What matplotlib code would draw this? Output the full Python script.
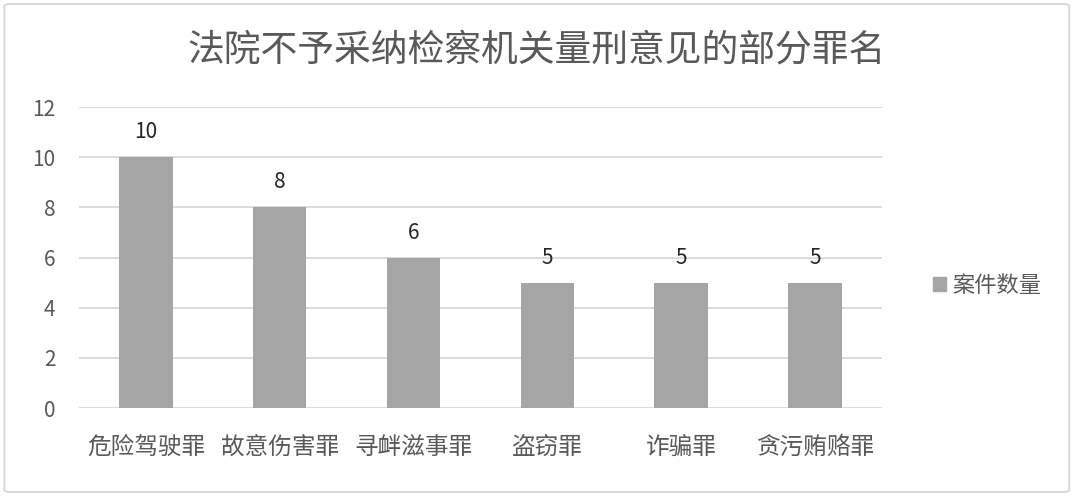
import matplotlib
matplotlib.use("Agg")
import matplotlib.pyplot as plt
from matplotlib.patches import FancyBboxPatch, Patch

plt.rcParams["font.family"] = ["Noto Sans CJK SC", "DejaVu Sans"]

TITLE = "法院不予采纳检察机关量刑意见的部分罪名"
categories = ["危险驾驶罪", "故意伤害罪", "寻衅滋事罪", "盗窃罪", "诈骗罪", "贪污贿赂罪"]
counts = [10, 8, 6, 5, 5, 5]
series_name = "案件数量"
y_ticks = [0, 2, 4, 6, 8, 10, 12]

BAR_COLOR = "#a5a5a5"
TEXT_COLOR = "#595959"
GRID_COLOR = "#d9d9d9"

fig = plt.figure(figsize=(10.8, 5.01), dpi=100)
ax = fig.add_axes([0.0731, 0.1856, 0.7436, 0.6008])

x = range(len(categories))
bars = ax.bar(x, counts, width=0.40, color=BAR_COLOR, zorder=3)

for rect, v in zip(bars, counts):
    ax.annotate(str(v), (rect.get_x() + rect.get_width() / 2, v),
                xytext=(0, 18), textcoords="offset points",
                ha="center", va="center", fontsize=15, color="#262626")

ax.set_xlim(-0.5, len(categories) - 0.5)
ax.set_ylim(0, 12)
ax.set_yticks(y_ticks)
ax.set_xticks(list(x))
ax.set_xticklabels(categories, fontsize=17, color=TEXT_COLOR, fontweight="light")
ax.tick_params(axis="y", labelsize=15, labelcolor=TEXT_COLOR, length=0, pad=17)
ax.tick_params(axis="x", length=0, pad=20)
ax.grid(axis="y", color=GRID_COLOR, lw=1.3, zorder=0)
for s in ax.spines.values():
    s.set_visible(False)

fig.text(0.497, 0.9, TITLE, ha="center", va="center", fontsize=26.5,
         color=TEXT_COLOR, fontweight="light")

fig.legend(handles=[Patch(color=BAR_COLOR, label=series_name)],
           loc="center left", bbox_to_anchor=(0.845, 0.43), frameon=False,
           fontsize=16, handlelength=0.6, handleheight=0.6, handletextpad=0.3,
           labelcolor=TEXT_COLOR)

border = FancyBboxPatch((0.004, 0.018), 0.986, 0.974, transform=fig.transFigure,
                        boxstyle="round,pad=0,rounding_size=0.005",
                        fill=False, edgecolor="#d9d9d9", lw=1.5)
fig.patches.append(border)

fig.savefig("out.png", dpi=100)
